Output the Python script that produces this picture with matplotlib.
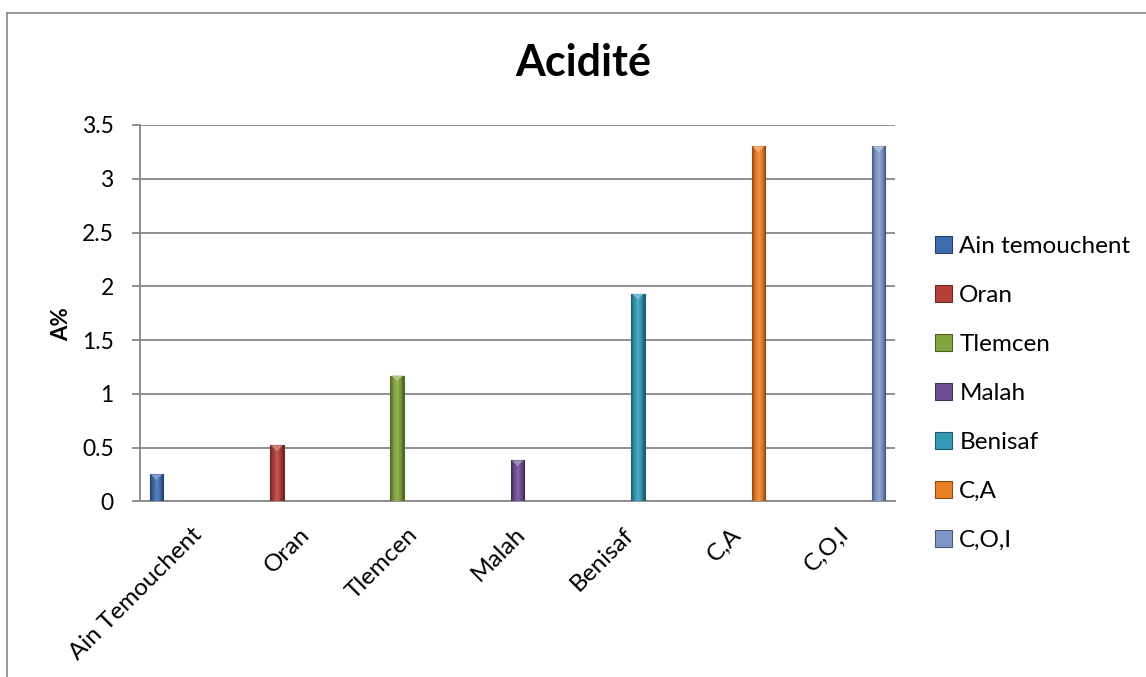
import numpy as np
import matplotlib
matplotlib.use("Agg")
import matplotlib.pyplot as plt
from matplotlib.colors import LinearSegmentedColormap, to_rgb
from matplotlib.patches import Polygon, Rectangle
from matplotlib.lines import Line2D
from matplotlib.transforms import ScaledTranslation

plt.rcParams['font.family'] = ['Lato', 'DejaVu Sans']

# acidity per site
sites = ['Ain Temouchent', 'Oran', 'Tlemcen', 'Malah', 'Benisaf', 'C,A', 'C,O,I']
series_names = ['Ain temouchent', 'Oran', 'Tlemcen', 'Malah', 'Benisaf', 'C,A', 'C,O,I']
acidite = [0.25, 0.52, 1.17, 0.38, 1.93, 3.3, 3.3]
colors = ['#3d6cae', '#b3403c', '#84a43f', '#6c4e94', '#3398b3', '#ea7f25', '#7e97c8']

grid_col = '#878787'

fig = plt.figure(figsize=(11.46, 6.77), dpi=100)
ax = fig.add_axes([0.1222, 0.2595, 0.6588, 0.5559])

x = np.arange(len(sites))
slot = 0.116
width = 0.125


def shade(c, f):
    r, g, b = to_rgb(c)
    if f < 0:
        return (r * (1 + f), g * (1 + f), b * (1 + f))
    return (r + (1 - r) * f, g + (1 - g) * f, b + (1 - b) * f)


for i, (name, val, col) in enumerate(zip(series_names, acidite, colors)):
    xpos = x[i] + (i - 3) * slot
    bars = ax.bar(xpos, val, width=width, color=col, edgecolor=shade(col, -0.35),
                  linewidth=0.8, zorder=3, label=name)
    rect = bars[0]
    x0 = rect.get_x()
    x1 = x0 + rect.get_width()
    h = rect.get_height()
    # bevel shading across the bar
    cmap = LinearSegmentedColormap.from_list(
        'bev', [shade(col, -0.4), shade(col, -0.05), shade(col, 0.15),
                shade(col, -0.05), shade(col, -0.45)])
    im = ax.imshow(np.linspace(0, 1, 64).reshape(1, -1), cmap=cmap,
                   extent=[x0, x1, 0, h], aspect='auto', zorder=4)
    im.set_clip_path(rect)
    # light notch on the top face
    notch = 0.055
    ax.add_patch(Polygon([[x0 + 0.01, h], [x1 - 0.01, h], [(x0 + x1) / 2, h - notch]],
                         closed=True, facecolor=shade(col, 0.35), edgecolor='none',
                         zorder=5))

ax.set_xlim(-0.5, len(sites) - 0.5)
ax.set_ylim(0, 3.5)
ax.set_yticks(np.arange(0, 3.51, 0.5))
ax.set_yticklabels(['%g' % v for v in np.arange(0, 3.51, 0.5)])
ax.yaxis.grid(True, color=grid_col, linewidth=1.3, zorder=0)
ax.set_axisbelow(True)

for s in ['top', 'right']:
    ax.spines[s].set_visible(False)
ax.spines['left'].set_color(grid_col)
ax.spines['left'].set_linewidth(1.3)
ax.spines['bottom'].set_color(grid_col)
ax.spines['bottom'].set_linewidth(1.3)

ax.tick_params(axis='y', direction='out', length=6, width=1.3, color=grid_col,
               pad=13, labelsize=16.5)
ax.tick_params(axis='x', length=0, pad=16, labelsize=17.5)

ax.set_xticks(x)
ax.set_xticklabels(sites, rotation=45, ha='right', va='top', rotation_mode='anchor')
for lbl in ax.get_xticklabels():
    lbl.set_transform(lbl.get_transform() + ScaledTranslation(-0.03, 0, fig.dpi_scale_trans))

ax.set_ylabel('A%', fontsize=16, fontweight='bold', va='center')
ax.yaxis.set_label_coords(-0.104, 0.47)

fig.text(583 / 1146, 1 - 63 / 677, 'Acidité', fontsize=31, fontweight='bold',
         ha='center', va='center')

handles = [Rectangle((0, 0), 1, 1, facecolor=c, edgecolor=shade(c, -0.4), linewidth=0.8)
           for c in colors]
fig.legend(handles, series_names, loc='upper left',
           bbox_to_anchor=(935 / 1146, 1 - 236 / 677), frameon=False, fontsize=17.5,
           handlelength=0.7, handleheight=0.7, handletextpad=0.3, labelspacing=1.15,
           borderpad=0, borderaxespad=0)

# chart frame
fig.add_artist(Line2D([7 / 1146, 1], [1 - 13 / 677, 1 - 13 / 677], color=grid_col,
                      linewidth=1.2, transform=fig.transFigure))
fig.add_artist(Line2D([7 / 1146, 7 / 1146], [0, 1 - 13 / 677], color=grid_col,
                      linewidth=1.2, transform=fig.transFigure))

fig.savefig('out.png', dpi=100)
